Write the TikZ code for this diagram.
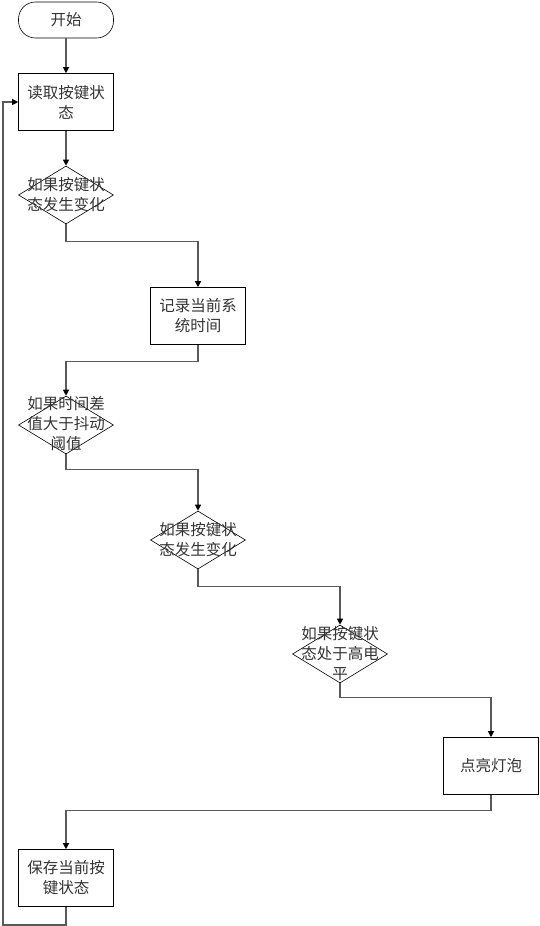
\documentclass[tikz,border=0pt]{standalone}
\usepackage{fontspec}
\newfontfamily\cjk{Noto Sans CJK SC}
\usetikzlibrary{shapes.geometric, arrows.meta}

\begin{document}
\begin{tikzpicture}[
  x=1pt, y=-1pt,
  every node/.style={font=\cjk\fontsize{15.5}{20}\selectfont, text=black!80},
  terminal/.style={rectangle, draw=black, line width=0.6pt, rounded corners=17pt, minimum width=95pt, minimum height=36pt, inner sep=0pt},
  process/.style={rectangle, draw=black, line width=0.6pt, minimum width=95pt, minimum height=57pt, align=center, inner sep=0pt},
  decision/.style={diamond, draw=black, line width=0.6pt, minimum width=95pt, minimum height=58pt, inner sep=0pt},
  dtext/.style={align=center, inner sep=0pt},
  flow/.style={draw=black!65, line width=1.2pt, -{Triangle[color=black, length=6pt, width=6pt]}}
]
\useasboundingbox (0,0) rectangle (539,926);

% Main column
\node[terminal] (start) at (66,20) {开始};
\node[process] (read) at (66,102) {读取按键状\\态};
\node[decision] (d1) at (66,195) {};
\node[dtext] (d1txt) at (66,195) {如果按键状\\态发生变化};

% Second column
\node[process] (record) at (198,316) {记录当前系\\统时间};

% Debounce check
\node[decision] (d2) at (66,425) {};
\node[dtext] (d2txt) at (66,424) {如果时间差\\值大于抖动\\阈值};

\node[decision] (d3) at (198,540) {};
\node[dtext] (d3txt) at (198,540) {如果按键状\\态发生变化};

\node[decision] (d4) at (340,654) {};
\node[dtext] (d4txt) at (340,654) {如果按键状\\态处于高电\\平};

\node[process] (light) at (491,766) {点亮灯泡};

\node[process] (save) at (66,878) {保存当前按\\键状态};

\coordinate (loop) at (3,925);

% Connections
\draw[flow] (start) -- (read);
\draw[flow] (read) -- (d1);
\draw[flow] (d1.south) -- ++(0,17) -| (record.north);
\draw[flow] (record.south) -- ++(0,17) -| (d2.north);
\draw[flow] (d2.south) -- ++(0,15) -| (d3.north);
\draw[flow] (d3.south) -- ++(0,17) -| (d4.north);
\draw[flow] (d4.south) -- ++(0,14) -| (light.north);
\draw[flow] (light.south) -- ++(0,16) -| (save.north);
\draw[flow] (save.south) |- (loop) |- (read.west);

\end{tikzpicture}
\end{document}
